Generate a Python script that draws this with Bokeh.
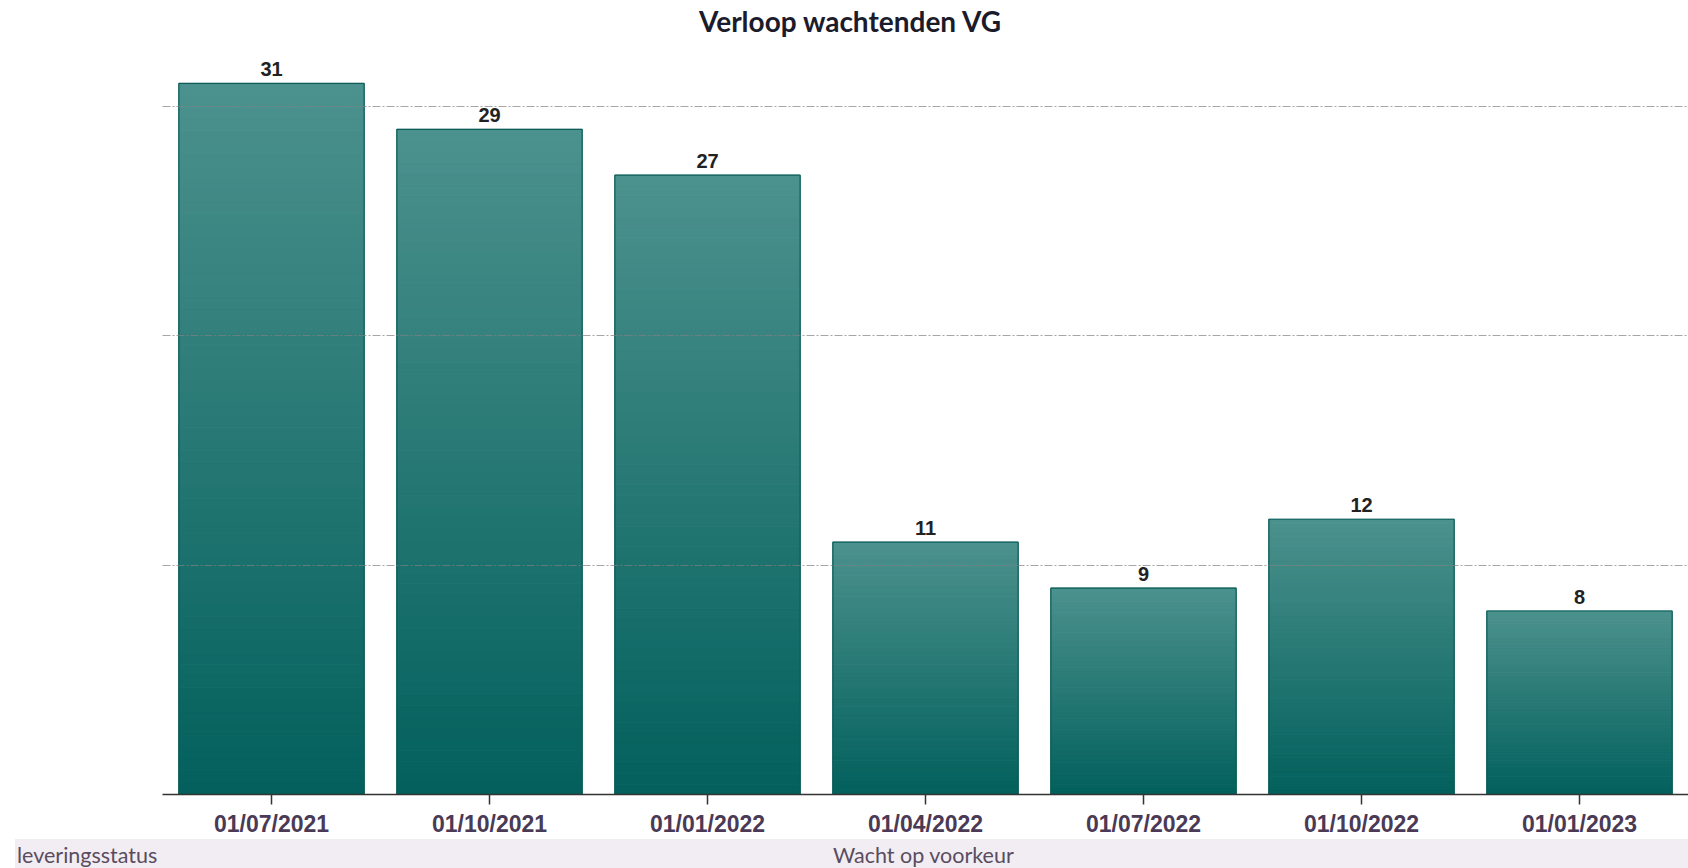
from bokeh.plotting import figure
from bokeh.models import ColumnDataSource, FactorRange, Range1d, FixedTicker, Div
from bokeh.layouts import column
from bokeh.embed import file_html
from bokeh.resources import INLINE

# ---- data ----
dates = ["01/07/2021", "01/10/2021", "01/01/2022", "01/04/2022",
         "01/07/2022", "01/10/2022", "01/01/2023"]
counts = [31, 29, 27, 11, 9, 12, 8]
grid_ticks = [10, 20, 30]
band_label = "leveringsstatus"
band_value = "Wacht op voorkeur"
title_text = "Verloop wachtenden VG"

# ---- style ----
top_rgb = (0x4c, 0x91, 0x8d)
bot_rgb = (0x02, 0x60, 0x5c)
N_SLICES = 60
BAR_W = 0.85

title_html = (
    '<div style="position:relative;width:1688px;height:44px;">'
    '<span style="position:absolute;left:699px;top:4px;font-family:Lato;'
    'font-size:28px;font-weight:bold;line-height:34px;color:#1b1b2b;'
    'white-space:nowrap;">%s</span></div>' % title_text
)
title_div = Div(text=title_html, width=1688, height=44, margin=(0, 0, 0, 0))

p = figure(x_range=FactorRange(*dates, range_padding=0),
           y_range=Range1d(0, 32.35),
           width=1688, height=795,
           output_backend="svg", toolbar_location=None,
           min_border_left=162, min_border_right=0,
           min_border_top=8, min_border_bottom=42)

# gradient bars built from slices of each value
xs, bots, tops, cols = [], [], [], []
for d, v in zip(dates, counts):
    for k in range(N_SLICES):
        f = (k + 0.5) / N_SLICES
        c = tuple(int(round(b + (tp - b) * f)) for b, tp in zip(bot_rgb, top_rgb))
        xs.append(d)
        bots.append(v * k / N_SLICES)
        tops.append(v * (k + 1) / N_SLICES)
        cols.append("#%02x%02x%02x" % c)
p.vbar(x=xs, bottom=bots, top=tops, width=BAR_W,
       fill_color=cols, line_color=cols, line_width=1)

src = ColumnDataSource(dict(x=dates, top=counts, lab=[str(c) for c in counts]))
p.vbar(x="x", top="top", bottom=0, width=BAR_W, source=src,
       fill_color=None, line_color="#0d5c58", line_width=1.2)

p.text(x="x", y="top", text="lab", source=src, text_align="center",
       text_baseline="alphabetic", y_offset=-14,
       text_font={"value": "Liberation Sans"}, text_font_style="bold",
       text_font_size="20px", text_color="#222222")

# axes / grid
p.yaxis.visible = False
p.xgrid.visible = False
p.ygrid.ticker = FixedTicker(ticks=grid_ticks)
p.ygrid.grid_line_color = "#808080"
p.ygrid.grid_line_alpha = 0.7
p.ygrid.grid_line_dash = "8 2 2 2"
p.ygrid.grid_line_width = 1
p.ygrid.level = "overlay"
p.outline_line_color = None

xa = p.xaxis[0]
xa.axis_line_color = "#333333"
xa.axis_line_width = 1.5
xa.major_tick_line_color = "#333333"
xa.major_tick_line_width = 1.5
xa.major_tick_out = 10
xa.major_tick_in = 0
xa.minor_tick_line_color = None
xa.major_label_standoff = 6
xa.major_label_text_font = "Liberation Sans"
xa.major_label_text_font_style = "bold"
xa.major_label_text_font_size = "23px"
xa.major_label_text_color = "#4a3a55"

band_html = (
    '<div style="position:relative;width:1673px;height:29px;background:#f2edf3;'
    'font-family:Lato;font-size:21.5px;color:#5a4c60;line-height:29px;overflow:hidden;">'
    '<span style="position:absolute;left:2px;top:2px;">%s</span>'
    '<span style="position:absolute;left:818px;top:2px;">%s</span>'
    '</div>' % (band_label, band_value)
)
band = Div(text=band_html, width=1673, height=29, margin=(0, 0, 0, 15))

layout = column(title_div, p, band, spacing=0)
open("out.html", "w").write(file_html(layout, INLINE))
